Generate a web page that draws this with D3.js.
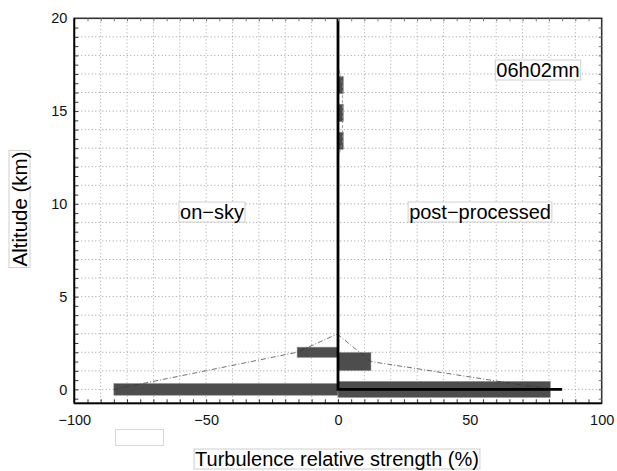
<!DOCTYPE html>
<html>
<head>
<meta charset="utf-8">
<script src="https://cdn.jsdelivr.net/npm/d3@7"></script>
<style>
  body { margin: 0; background: #fff; }
  svg { display: block; font-family: "Liberation Sans", Arial, Helvetica, sans-serif; }
</style>
</head>
<body>
<svg id="chart"></svg>
<script>
  // on-sky layers (left side, negative strengths)
  const onSkyAlt = [0, 2.0];
  const onSkyVal = [-85, -15.5];
  const onSkyThick = [0.63, 0.55];

  // post-processed layers (right side)
  const postAlt = [0, 1.5, 13.4, 14.9, 16.4];
  const postVal = [80.5, 12.5, 2.0, 2.0, 2.0];
  const postThick = [0.86, 0.97, 0.92, 0.94, 0.92];

  // dash-dot profiles joining the layers [strength, altitude]
  const onSkyProfile = [[-85, 0], [-15.5, 2.0], [0, 3.0]];
  const postProfile = [[80.5, 0], [12.5, 1.5], [0, 2.95]];
  const upperProfile = [[0, 12.5], [1.7, 13.3], [1.7, 16.5], [0, 17.45]];

  // reference profile (thick black line)
  const refProfile = [[0, 20], [0, 0], [85, 0]];

  const xTicks = [-100, -50, 0, 50, 100];
  const yTicks = [0, 5, 10, 15, 20];
  const xDomain = [-100, 100];
  const yDomain = [-0.75, 20];

  const width = 617, height = 471;
  const margin = {left: 74.3, right: 15.3, top: 18.3, bottom: 67.7};

  let svg = d3.select("#chart")
              .attr("width", width)
              .attr("height", height);

  let x = d3.scaleLinear().domain(xDomain).range([margin.left, width - margin.right]);
  let y = d3.scaleLinear().domain(yDomain).range([height - margin.bottom, margin.top]);

  const x0 = x.range()[0], x1 = x.range()[1];
  const y0 = y.range()[0], y1 = y.range()[1];

  //grid
  let grid = svg.append("g").attr("class", "grid");
  grid.selectAll(".vgrid")
      .data(d3.range(-90, 100, 10))
      .enter()
      .append("line")
        .attr("x1", d => x(d)).attr("x2", d => x(d))
        .attr("y1", y1).attr("y2", y0)
        .attr("stroke", "#a5a5a5")
        .attr("stroke-width", 1)
        .attr("stroke-dasharray", "1,2.5");
  grid.selectAll(".hgrid")
      .data(d3.range(0, 20, 1))
      .enter()
      .append("line")
        .attr("x1", x0).attr("x2", x1)
        .attr("y1", d => y(d)).attr("y2", d => y(d))
        .attr("stroke", "#999")
        .attr("stroke-width", 1)
        .attr("stroke-dasharray", "1,2.5");

  // bars
  function drawBars(alts, vals, thick, cls) {
    svg.append("g")
      .selectAll("rect")
      .data(alts.map((a, i) => ({alt: a, val: vals[i], th: thick[i]})))
      .enter()
      .append("rect")
        .attr("class", cls)
        .attr("x", d => x(Math.min(0, d.val)))
        .attr("width", d => Math.abs(x(d.val) - x(0)))
        .attr("y", d => y(d.alt + d.th / 2))
        .attr("height", d => y(d.alt - d.th / 2) - y(d.alt + d.th / 2))
        .attr("fill", "#4d4d4d")
        .attr("stroke", "#8c8c8c")
        .attr("stroke-width", 0.6);
  }
  drawBars(onSkyAlt, onSkyVal, onSkyThick, "onsky");
  drawBars(postAlt, postVal, postThick, "post");

  let line = d3.line().x(d => x(d[0])).y(d => y(d[1]));

  [onSkyProfile, postProfile].forEach(p => {
    svg.append("path")
        .attr("d", line(p))
        .attr("fill", "none")
        .attr("stroke", "#333")
        .attr("stroke-width", 0.7)
        .attr("stroke-dasharray", "5,2,1,2");
  });
  svg.append("path")
      .attr("d", line(upperProfile))
      .attr("fill", "none")
      .attr("stroke", "#888")
      .attr("stroke-width", 0.8)
      .attr("stroke-dasharray", "3,2");

  // reference profile
  svg.append("path")
      .attr("d", line(refProfile))
      .attr("fill", "none")
      .attr("stroke", "#000")
      .attr("stroke-width", 2.8);

  // frame
  svg.append("rect")
      .attr("x", x0).attr("y", y1)
      .attr("width", x1 - x0).attr("height", y0 - y1)
      .attr("fill", "none")
      .attr("stroke", "#333")
      .attr("stroke-width", 1.6);

  // inward minor ticks on all four sides
  let minorX = d3.range(-95, 100, 5);
  let minorY = d3.range(-0.5, 20, 0.5);
  svg.append("g")
      .attr("transform", `translate(0,${y0})`)
      .call(d3.axisBottom(x).tickValues(minorX).tickSize(-4).tickFormat(""))
      .call(g => g.select(".domain").remove())
      .call(g => g.selectAll("line").attr("stroke", "#333"));
  svg.append("g")
      .attr("transform", `translate(0,${y1})`)
      .call(d3.axisTop(x).tickValues(minorX).tickSize(-3).tickFormat(""))
      .call(g => g.select(".domain").remove())
      .call(g => g.selectAll("line").attr("stroke", "#777"));
  svg.append("g")
      .attr("transform", `translate(${x0},0)`)
      .call(d3.axisLeft(y).tickValues(minorY).tickSize(-4).tickFormat(""))
      .call(g => g.select(".domain").remove())
      .call(g => g.selectAll("line").attr("stroke", "#333"));
  svg.append("g")
      .attr("transform", `translate(${x1},0)`)
      .call(d3.axisRight(y).tickValues(minorY).tickSize(-3).tickFormat(""))
      .call(g => g.select(".domain").remove())
      .call(g => g.selectAll("line").attr("stroke", "#777"));

  // axis lines
  svg.append("line")
      .attr("x1", x0).attr("x2", x0).attr("y1", y1).attr("y2", y0)
      .attr("stroke", "#000").attr("stroke-width", 1.8);
  svg.append("line")
      .attr("x1", x0).attr("x2", x1).attr("y1", y0).attr("y2", y0)
      .attr("stroke", "#000").attr("stroke-width", 1.8);

  // tick labels
  let fmt = d => d < 0 ? "\u2212" + Math.abs(d) : String(d);
  svg.append("g")
      .attr("transform", `translate(0,${y0})`)
      .call(d3.axisBottom(x).tickValues(xTicks).tickSize(0).tickPadding(11).tickFormat(fmt))
      .call(g => g.select(".domain").remove())
      .call(g => g.selectAll("text").attr("font-size", 14.5).attr("fill", "#111")
                   .attr("font-family", "Liberation Sans, Arial, sans-serif"));
  svg.append("g")
      .attr("transform", `translate(${x0},0)`)
      .call(d3.axisLeft(y).tickValues(yTicks).tickSize(0).tickPadding(7).tickFormat(fmt))
      .call(g => g.select(".domain").remove())
      .call(g => g.selectAll("text").attr("font-size", 14.5).attr("fill", "#111")
                   .attr("font-family", "Liberation Sans, Arial, sans-serif"));

  // boxed labels
  function boxedText(tx, ty, txt, rotate, size) {
    let g = svg.append("g")
      .attr("transform", `translate(${tx},${ty})` + (rotate ? " rotate(-90)" : ""));
    let rect = g.append("rect");
    let t = g.append("text")
        .attr("text-anchor", "middle")
        .attr("font-size", size || 20)
        .attr("fill", "#000")
        .text(txt);
    let bb = t.node().getBBox();
    rect.attr("x", bb.x - 1).attr("y", bb.y + 1)
        .attr("width", bb.width + 2).attr("height", bb.height - 2)
        .attr("fill", "#fff")
        .attr("stroke", "#cfcfcf")
        .attr("stroke-width", 1);
  }
  boxedText(212, 219, "on\u2212sky");
  boxedText(480, 219, "post\u2212processed");
  boxedText(538, 77, "06h02mn");
  boxedText(27, 209, "Altitude (km)", true, 20.5);
  boxedText(337, 466, "Turbulence relative strength (%)");

  // empty legend box
  svg.append("rect")
      .attr("x", 115.5).attr("y", 429.5)
      .attr("width", 48).attr("height", 16)
      .attr("fill", "#fff")
      .attr("stroke", "#d8d8d8")
      .attr("stroke-width", 1);
</script>
</body>
</html>
